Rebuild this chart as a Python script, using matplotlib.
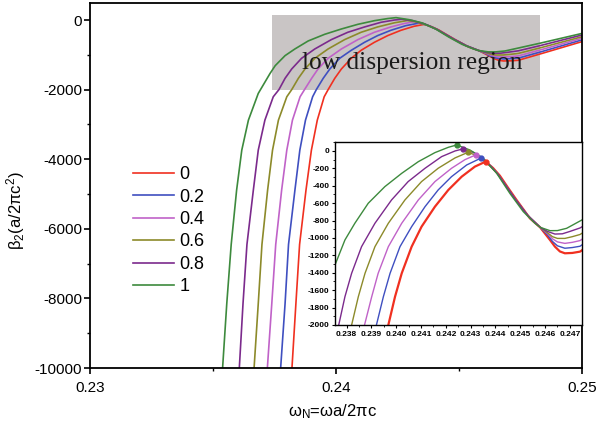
import matplotlib
matplotlib.use('Agg')
import matplotlib.pyplot as plt
from matplotlib.patches import Rectangle
from matplotlib.ticker import MultipleLocator

plt.rcParams['font.family'] = ['Liberation Sans', 'DejaVu Sans']
plt.rcParams['mathtext.fontset'] = 'custom'
plt.rcParams['mathtext.rm'] = 'Liberation Sans'
plt.rcParams['mathtext.it'] = 'Liberation Sans:italic'
plt.rcParams['axes.unicode_minus'] = False

labels = ['0', '0.2', '0.4', '0.6', '0.8', '1']
colors = ['#f03020', '#3f4fc0', '#c062c8', '#8c8a2a', '#7b2a8c', '#3d8a3d']

# normalised frequency / beta2, one pair per curve
w_0 = [0.23821, 0.23837, 0.23852, 0.23878, 0.239, 0.23924, 0.23952, 0.23968, 0.23995,
       0.24022, 0.24062, 0.24102, 0.24156, 0.2421, 0.24264, 0.24317, 0.2436, 0.2439,
       0.24418, 0.2445, 0.24485, 0.24539, 0.2458, 0.2462, 0.2464, 0.2466, 0.2468,
       0.2471, 0.24741, 0.2483, 0.25]
b_0 = [-10000, -8150, -6450, -4889, -3739, -2876, -2205, -2000, -1675,
       -1406, -1100, -870, -640, -448, -295, -180, -123, -195,
       -285, -420, -563, -774, -877, -1023, -1100, -1155, -1176,
       -1172, -1157, -975, -620]

w_02 = [0.23775, 0.23793, 0.23807, 0.23833, 0.23853, 0.23876, 0.23905, 0.2392, 0.23948,
        0.23975, 0.24015, 0.24062, 0.24116, 0.24169, 0.24223, 0.24284, 0.2434, 0.2438,
        0.2441, 0.2448, 0.2453, 0.2458, 0.2461, 0.2463, 0.2465, 0.2468, 0.2471,
        0.24741, 0.2483, 0.25]
b_02 = [-10000, -8150, -6450, -4889, -3739, -2876, -2205, -2000, -1675,
        -1406, -1100, -870, -640, -448, -295, -161, -84, -170,
        -268, -555, -740, -877, -965, -1040, -1090, -1118, -1110,
        -1095, -920, -570]

w_04 = [0.23721, 0.23739, 0.23755, 0.23779, 0.238, 0.23823, 0.23854, 0.23872, 0.23901,
        0.23927, 0.23968, 0.24022, 0.24089, 0.24156, 0.24223, 0.24277, 0.2432, 0.2436,
        0.2441, 0.2448, 0.2453, 0.2458, 0.2461, 0.2463, 0.2465, 0.2468, 0.2471,
        0.24741, 0.2483, 0.25]
b_04 = [-10000, -8150, -6450, -4889, -3739, -2876, -2205, -2000, -1675,
        -1406, -1100, -831, -563, -352, -199, -100, -46, -115,
        -268, -555, -740, -877, -950, -1010, -1045, -1062, -1050,
        -1030, -860, -525]

w_06 = [0.23667, 0.23684, 0.23699, 0.23722, 0.23742, 0.23766, 0.238, 0.2382, 0.23847,
        0.23874, 0.23914, 0.23968, 0.24035, 0.24102, 0.24169, 0.24237, 0.2429, 0.2433,
        0.2437, 0.2441, 0.2448, 0.2453, 0.2458, 0.2461, 0.2463, 0.2465, 0.2468,
        0.2471, 0.24741, 0.2483, 0.25]
b_06 = [-10000, -8150, -6450, -4889, -3739, -2876, -2205, -2000, -1675,
        -1406, -1100, -831, -563, -352, -199, -80, -15, -60,
        -150, -268, -555, -740, -877, -940, -985, -1005, -1005,
        -985, -960, -800, -480]

w_08 = [0.23607, 0.23622, 0.23638, 0.23664, 0.23684, 0.23711, 0.23745, 0.23768, 0.23793,
        0.2382, 0.2386, 0.23914, 0.23981, 0.24048, 0.24116, 0.24183, 0.24237, 0.24268,
        0.2431, 0.2436, 0.2441, 0.2448, 0.2453, 0.2458, 0.2461, 0.2464, 0.2467,
        0.247, 0.24741, 0.2483, 0.25]
b_08 = [-10000, -8150, -6450, -4889, -3739, -2876, -2205, -2000, -1675,
        -1406, -1100, -831, -563, -352, -199, -65, 0, 23,
        -15, -110, -268, -555, -740, -877, -925, -955, -952,
        -925, -885, -735, -430]

w_1 = [0.23539, 0.23556, 0.23574, 0.23596, 0.23617, 0.23644, 0.23684, 0.23732, 0.23753,
       0.23793, 0.23833, 0.23887, 0.23954, 0.24022, 0.24089, 0.24156, 0.2421, 0.24244,
       0.24297, 0.24351, 0.24405, 0.24458, 0.24512, 0.24559, 0.2458, 0.2462, 0.2465,
       0.24687, 0.24741, 0.2483, 0.25]
b_1 = [-10000, -8150, -6450, -4889, -3739, -2876, -2109, -1534, -1310,
       -1023, -831, -601, -410, -257, -123, -19, 42, 69,
       11, -84, -257, -487, -697, -831, -877, -916, -915,
       -889, -805, -665, -385]

freqs = [w_0, w_02, w_04, w_06, w_08, w_1]
betas = [b_0, b_02, b_04, b_06, b_08, b_1]

# peak positions marked in the inset
peak_w = [0.2436, 0.2434, 0.2432, 0.2429, 0.24268, 0.24244]
peak_b = [-123, -84, -46, -15, 23, 69]

fig = plt.figure(figsize=(5.96, 4.25), dpi=100)
ax = fig.add_axes([0.151, 0.1341, 0.8255, 0.8588])

ax.add_patch(Rectangle((0.2374, -2000), 0.0109, 2150, facecolor='#c9c5c5',
                       edgecolor='none', zorder=1))
ax.text(0.2431, -1240, 'low dispersion region', family='Liberation Serif',
        fontsize=18.3, ha='center', va='center', color='#1a1a1a', zorder=3)

for w, b, c, lab in zip(freqs, betas, colors, labels):
    ax.plot(w, b, color=c, lw=1.2, label=lab, zorder=2)

ax.set_xlim(0.23, 0.25)
ax.set_ylim(-10000, 489)
ax.set_xticks([0.23, 0.24, 0.25])
ax.set_xticklabels(['0.23', '0.24', '0.25'])
ax.xaxis.set_minor_locator(MultipleLocator(0.005))
ax.set_yticks([0, -2000, -4000, -6000, -8000, -10000])
ax.yaxis.set_minor_locator(MultipleLocator(1000))
ax.tick_params(which='both', direction='out', top=False, right=False, labelsize=11)
ax.tick_params(axis='x', which='major', length=4, width=1.2, pad=5)
ax.tick_params(axis='y', which='major', length=4.5, width=1.2, pad=1)
ax.tick_params(which='minor', length=2.5, width=1.0)
for s in ax.spines.values():
    s.set_linewidth(1.3)

ax.set_xlabel('ω$_\\mathrm{N}$=ωa/2πc', fontsize=12)
ax.xaxis.set_label_coords(0.494, -0.093)
ax.set_ylabel('β$_\\mathrm{2}$(a/2πc$^\\mathrm{2}$)', fontsize=12)
ax.yaxis.set_label_coords(-0.128, 0.43)

ax.legend(loc='upper left', bbox_to_anchor=(0.087, 0.553), frameon=False,
          fontsize=13, handlelength=2.3, handletextpad=0.3, labelspacing=0.30,
          borderpad=0, borderaxespad=0)

# inset
ins = fig.add_axes([0.5621, 0.2353, 0.4144, 0.4306])
for w, b, c in zip(freqs, betas, colors):
    ins.plot(w, b, color=c, lw=1.6 if c == colors[0] else 1.0)
for pw, pb, c in zip(peak_w, peak_b, colors):
    ins.plot(pw, pb, 'o', color=c, ms=3.5)
ins.set_xlim(0.23753, 0.24749)
ins.set_ylim(-2000, 103)
ins.set_xticks([0.238 + 0.001 * i for i in range(10)])
ins.set_xticklabels(['%.3f' % (0.238 + 0.001 * i) for i in range(10)])
ins.xaxis.set_minor_locator(MultipleLocator(0.0005))
ins.set_yticks(list(range(-2000, 1, 200)))
ins.yaxis.set_minor_locator(MultipleLocator(100))
ins.tick_params(which='both', direction='out', top=False, right=False,
                labelsize=6, pad=1.5)
ins.tick_params(which='major', length=2.5, width=0.8)
ins.tick_params(which='minor', length=1.5, width=0.6)
for t in ins.get_xticklabels() + ins.get_yticklabels():
    t.set_fontweight('bold')
for s in ins.spines.values():
    s.set_linewidth(1.0)

fig.savefig('out.png', dpi=100)
